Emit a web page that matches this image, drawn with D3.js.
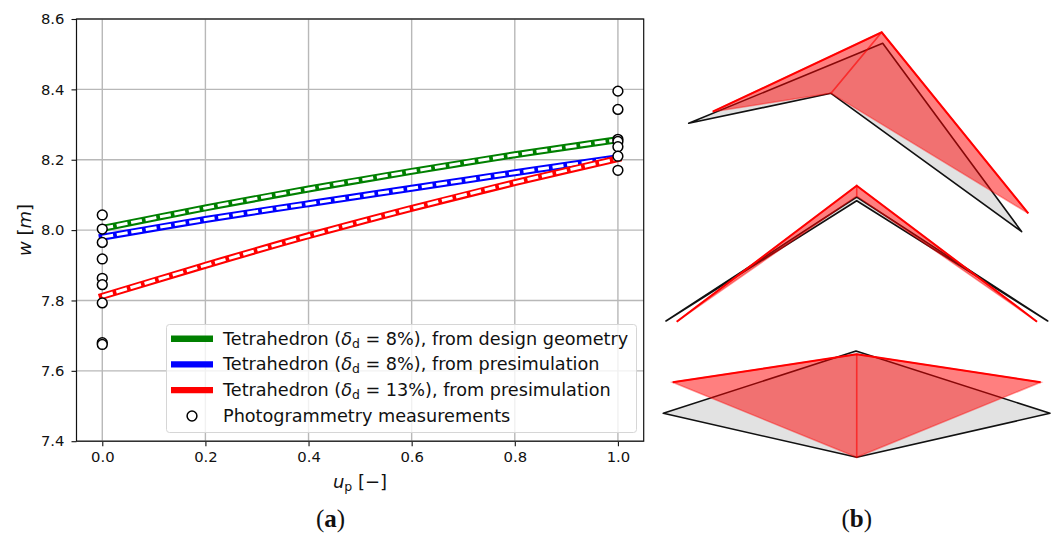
<!DOCTYPE html>
<html>
<head>
<meta charset="utf-8">
<script src="https://cdn.jsdelivr.net/npm/d3@7"></script>
<style>
  html, body { margin: 0; padding: 0; background: #fff; }
  svg { display: block; }
  text { font-family: "DejaVu Sans", sans-serif; fill: #111; }
  .caption { font-family: "Liberation Serif", serif; font-size: 25px; }
</style>
</head>
<body>
<script>
// panel (a) data
var xTicks = [0, 0.2, 0.4, 0.6, 0.8, 1.0];
var yTicks = [7.4, 7.6, 7.8, 8.0, 8.2, 8.4, 8.6];
var upos = [0, 0.2, 0.4, 0.6, 0.8, 1.0];
var greenValues = [8.005, 8.063, 8.117, 8.167, 8.214, 8.257];
var blueValues = [7.980, 8.030, 8.075, 8.119, 8.163, 8.206];
var redValues = [7.812, 7.900, 7.984, 8.062, 8.135, 8.203];
var measuredAtZero = [8.043, 8.003, 7.965, 7.918, 7.863, 7.845, 7.793, 7.680, 7.675];
var measuredAtOne = [8.395, 8.343, 8.258, 8.252, 8.237, 8.210, 8.170];
var seriesNames = ["8%), from design geometry", "8%), from presimulation", "13%), from presimulation"];
var seriesColors = ["green", "blue", "red"];
var measuredName = "Photogrammetry measurements";

// panel (b) outlines, in panel units
var topBlack = [[32.7, 103.3], [226.7, 23.3], [175, 73.3], [365.7, 211.7]];
var topRed = [[56.7, 91.7], [225.7, 12.3], [175, 73.3], [372.3, 193.3]];
var midBlack = [[10, 301], [200.7, 177], [200.7, 180.7], [391.7, 301]];
var midRed = [[20.7, 301.7], [200.7, 165.7], [200.7, 176], [381, 301.7]];
var lowBlack = [[7.3, 393.3], [200, 331], [200.7, 437.3], [394, 393.3]];
var lowRed = [[16.7, 362.3], [200.7, 334.3], [200.7, 437.3], [384.7, 362.3]];

var width = 1056, height = 534;

var svg = d3.select("body").append("svg")
  .attr("width", width)
  .attr("height", height);

var x = d3.scaleLinear().domain([-0.05, 1.05]).range([76.5, 643.7]);
var y = d3.scaleLinear().domain([7.4, 8.6]).range([441.2, 19]);

var plot = svg.append("g");

// ticks stick out 5px past the spine
var gx = plot.append("g").attr("transform", "translate(0,441.2)")
  .call(d3.axisBottom(x).tickValues(xTicks).tickFormat(d3.format(".1f")).tickSize(5).tickPadding(5));
var gy = plot.append("g").attr("transform", "translate(76.5,0)")
  .call(d3.axisLeft(y).tickValues(yTicks).tickFormat(d3.format(".1f")).tickSize(5).tickPadding(7));

[gx, gy].forEach(function(g) {
  g.select(".domain").remove();
  g.selectAll("text").style("font-size", "14.8px").style("font-family", "DejaVu Sans").attr("fill", "#111");
  g.selectAll("line").attr("stroke", "#111").attr("stroke-width", 1.1);
});

plot.append("g").selectAll("line").data(xTicks).enter().append("line")
  .attr("x1", x).attr("x2", x).attr("y1", y(8.6)).attr("y2", y(7.4))
  .attr("stroke", "#b8b8b8").attr("stroke-width", 1.4);
plot.append("g").selectAll("line").data(yTicks).enter().append("line")
  .attr("x1", x(-0.05)).attr("x2", x(1.05)).attr("y1", y).attr("y2", y)
  .attr("stroke", "#b8b8b8").attr("stroke-width", 1.4);

var line = d3.line()
  .x(function(d) { return x(d[0]); })
  .y(function(d) { return y(d[1]); })
  .curve(d3.curveNatural);

[greenValues, blueValues, redValues].forEach(function(vals, i) {
  var pts = upos.map(function(u, j) { return [u, vals[j]]; });
  plot.append("path").attr("d", line(pts)).attr("fill", "none")
    .attr("stroke", seriesColors[i]).attr("stroke-width", 7)
    .attr("stroke-linecap", "square");
  plot.append("path").attr("d", line(pts)).attr("fill", "none")
    .attr("stroke", "#fff").attr("stroke-width", 3)
    .attr("stroke-dasharray", "11 3.7");
});

// measurements: white inside, lower circles sit over upper ones
var measured = measuredAtZero.map(function(v) { return [0, v]; })
  .concat(measuredAtOne.map(function(v) { return [1, v]; }));
plot.append("g").selectAll("circle").data(measured).enter().append("circle")
  .attr("cx", function(d) { return x(d[0]); })
  .attr("cy", function(d) { return y(d[1]); })
  .attr("r", 4.9)
  .attr("fill", "#fff")
  .attr("stroke", "#000").attr("stroke-width", 1.5);

// spines
plot.append("rect")
  .attr("x", x(-0.05)).attr("y", y(8.6))
  .attr("width", x(1.05) - x(-0.05)).attr("height", y(7.4) - y(8.6))
  .attr("fill", "none").attr("stroke", "#111").attr("stroke-width", 1.2);

// legend
var legend = svg.append("g");
legend.append("rect")
  .attr("x", 166.5).attr("y", 324.5).attr("width", 470).attr("height", 108).attr("rx", 3)
  .attr("fill", "#fff").attr("fill-opacity", 0.8)
  .attr("stroke", "#d6d6d6").attr("stroke-width", 1);

seriesNames.forEach(function(name, i) {
  var ly = 338.7 + i * 25.7;
  legend.append("line")
    .attr("x1", 171).attr("x2", 213).attr("y1", ly).attr("y2", ly)
    .attr("stroke", seriesColors[i]).attr("stroke-width", 6.4);
  var t = legend.append("text").attr("x", 223).attr("y", ly + 6).style("font-size", "17.65px");
  t.append("tspan").text("Tetrahedron (");
  t.append("tspan").style("font-style", "italic").text("\u03b4");
  t.append("tspan").attr("dy", 3).style("font-size", "12.4px").text("d");
  t.append("tspan").attr("dy", -3).text(" = " + name);
});
legend.append("circle").attr("cx", 192).attr("cy", 416).attr("r", 4.9)
  .attr("fill", "#fff").attr("stroke", "#000").attr("stroke-width", 1.5);
legend.append("text").attr("x", 223).attr("y", 422).style("font-size", "17.65px").text(measuredName);

// axis labels
var xl = svg.append("text").attr("x", 360).attr("y", 488).attr("text-anchor", "middle").style("font-size", "18px");
xl.append("tspan").style("font-style", "italic").text("u");
xl.append("tspan").attr("dy", 3).style("font-size", "12.5px").text("p");
xl.append("tspan").attr("dy", -3).text(" [\u2212]");

var yl = svg.append("text").attr("transform", "translate(31,230) rotate(-90)")
  .attr("text-anchor", "middle").style("font-size", "18px");
yl.append("tspan").style("font-style", "italic").text("w");
yl.append("tspan").text(" [");
yl.append("tspan").style("font-style", "italic").text("m");
yl.append("tspan").text("]");

// panel (b)
var px = d3.scaleLinear().domain([0, 400]).range([656, 1056]);
var py = d3.scaleLinear().domain([0, 440]).range([20, 460]);
var toPoint = function(p) { return [px(p[0]), py(p[1])]; };
var path = function(pts, close) { return d3.line()(pts.map(toPoint)) + (close ? "Z" : ""); };
var sketch = svg.append("g");

function drawShape(black, red) {
  // points in each: left tip, upper ridge, lower ridge, right tip
  sketch.append("path").attr("d", path([black[0], black[1], black[3], black[2]], true))
    .attr("fill", "#e2e2e2").attr("stroke", "#111").attr("stroke-width", 1.6)
    .attr("stroke-linejoin", "round");
  [[red[0], red[1], red[2]], [red[2], red[1], red[3]]].forEach(function(tri) {
    sketch.append("path").attr("d", path(tri, true))
      .attr("fill", "#ff0000").attr("fill-opacity", 0.5)
      .attr("stroke", "#ff0000").attr("stroke-opacity", 0.4).attr("stroke-width", 1.5);
  });
  sketch.append("path").attr("d", path([red[0], red[1], red[3]], false))
    .attr("fill", "none").attr("stroke", "#ff0000").attr("stroke-width", 2);
}

drawShape(topBlack, topRed);
drawShape(midBlack, midRed);
drawShape(lowBlack, lowRed);

// captions
[["a", 330.5], ["b", 856.7]].forEach(function(c) {
  var t = svg.append("text").attr("class", "caption").attr("x", c[1]).attr("y", 527).attr("text-anchor", "middle");
  t.append("tspan").text("(");
  t.append("tspan").style("font-weight", "bold").text(c[0]);
  t.append("tspan").text(")");
});
</script>
</body>
</html>
